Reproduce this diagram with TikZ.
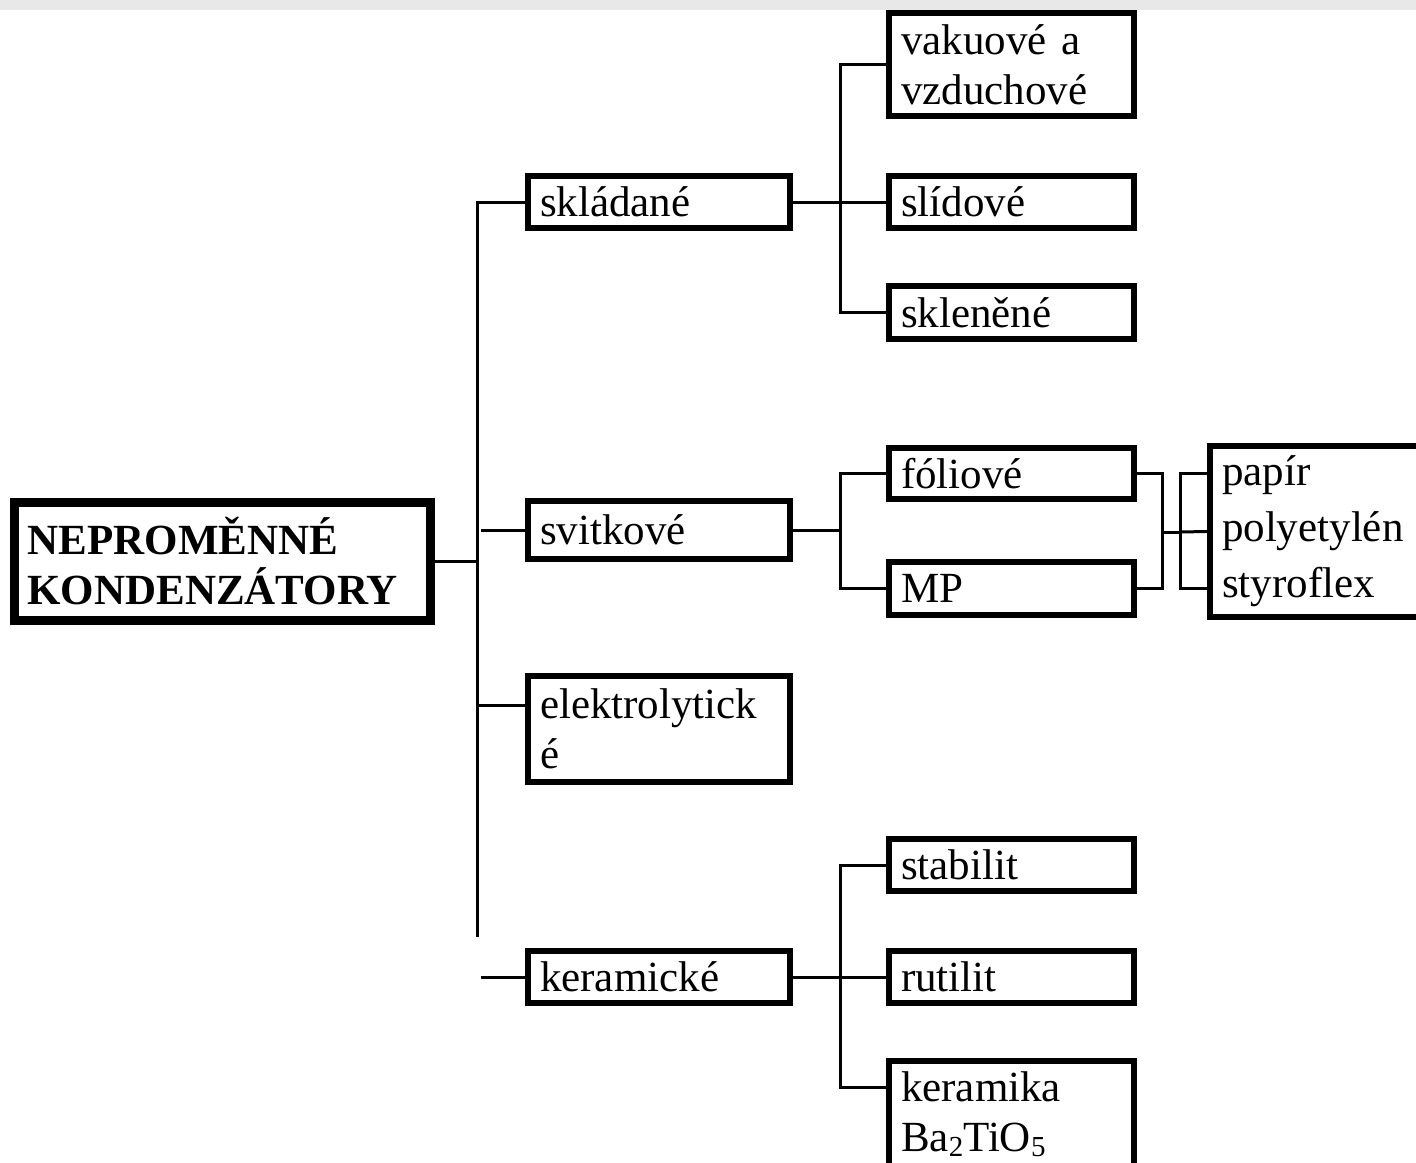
\documentclass[tikz,border=0pt]{standalone}
\usepackage{fontspec}
\setmainfont{Liberation Serif}
\newcommand{\lowsub}[1]{\raisebox{-5pt}{\fontsize{29}{29}\selectfont #1}}

\begin{document}
\begin{tikzpicture}[x=1pt, y=-1pt,
    box/.style={rectangle, draw, line width=6pt, anchor=north west, inner xsep=12pt, inner ysep=2pt, align=left, font=\fontsize{43}{50}\selectfont},
    colA/.style={box, minimum width=262pt, text width=238pt},
    colB/.style={box, minimum width=245pt, text width=221pt},
    rootbox/.style={box, line width=9pt, inner xsep=13pt, minimum width=416pt, text width=390pt, font=\fontsize{43}{50}\selectfont\bfseries},
    conn/.style={line width=3pt}]
    \clip (0,0) rectangle (1416,1162);
    \fill[black!9] (0,0) rectangle (1416,10);

    % ノードの定義
    \node[rootbox, minimum height=118pt] (root) at (10,498) {NEPROMĚNNÉ\\KONDENZÁTORY};

    \node[colA, minimum height=52pt] (sklad) at (525,173) {skládané};
    \node[colA, minimum height=58pt] (svit) at (525,498) {svitkové};
    \node[colA, minimum height=106pt] (elek) at (525,673) {elektrolytick\\é};
    \node[colA, minimum height=52pt] (kera) at (525,948) {keramické};

    \node[colB, minimum height=103pt] (vak) at (886,10) {vakuové a\\vzduchové};
    \node[colB, minimum height=52pt] (slid) at (886,173) {slídové};
    \node[colB, minimum height=53pt] (skle) at (886,283) {skleněné};
    \node[colB, minimum height=51pt] (fol) at (886,445) {fóliové};
    \node[colB, minimum height=53pt] (mp) at (886,559) {MP};
    \node[colB, minimum height=52pt] (stab) at (886,836) {stabilit};
    \node[colB, minimum height=52pt] (rut) at (886,948) {rutilit};
    \node[colB, minimum height=111pt] (kbox) at (886,1058) {keramika\\Ba\lowsub{2}TiO\lowsub{5}\rule[-10pt]{0pt}{0pt}};

    \node[box, minimum width=217pt, text width=193pt, minimum height=171pt, font=\fontsize{43}{56}\selectfont] (pap) at (1207,443) {papír\\polyetylén\\styroflex};

    % 分岐点
    \coordinate (tBot) at (477,937);
    \coordinate (jA) at (840,202);
    \coordinate (jB) at (840,530);
    \coordinate (jC) at (840,977);
    \coordinate (jR) at (1162,532);
    \coordinate (jP) at (1180,532);

    % 線を描く
    \draw[conn] (sklad.west) -| (tBot);
    \draw[conn] (root.east) -- (root.east -| tBot);
    \draw[conn] (svit.west) -- ++(-44,0);
    \draw[conn] ([yshift=24pt]elek.west) -- ++(-48,0);
    \draw[conn] (kera.west) -- ++(-44,0);

    \draw[conn] (vak.west) -| (jA) |- (skle.west);
    \draw[conn] (sklad.east) -- (slid.west);

    \draw[conn] (fol.west) -| (jB) |- (mp.west);
    \draw[conn] (svit.east) -- (jB);

    \draw[conn] (stab.west) -| (jC) |- ([yshift=-29pt]kbox.north west);
    \draw[conn] (kera.east) -- (rut.west);

    \draw[conn] (fol.east) -| (jR) |- (mp.east);
    \draw[conn] (jR) -- (jP);
    \draw[conn] (pap.west |- fol.east) -| (jP) |- (pap.west |- mp.east);
    \draw[conn] (pap.west) -- (jP);

  \end{tikzpicture}
\end{document}
